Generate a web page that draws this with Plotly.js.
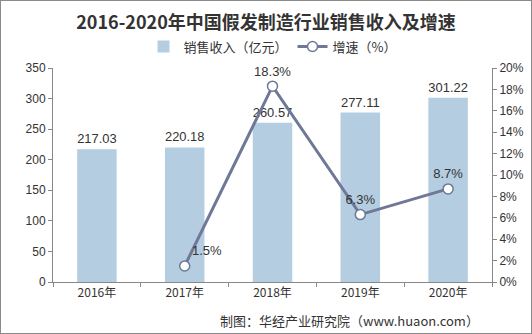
<!DOCTYPE html>
<html><head><meta charset="utf-8">
<script src="https://cdn.plot.ly/plotly-3.0.1.min.js"></script>
<style>
html,body{margin:0;padding:0;background:#fff;}
#frame{width:532px;height:334px;box-sizing:border-box;border:1px solid #8a8a8a;position:relative;}
#chart{width:530px;height:332px;}
</style></head>
<body><div id="frame"><div id="chart"></div></div>
<script>
const years = ['2016年','2017年','2018年','2019年','2020年'];
const revenue = [217.03, 220.18, 260.57, 277.11, 301.22];
const growthYears = ['2017年','2018年','2019年','2020年'];
const growth = [1.5, 18.3, 6.3, 8.7];
const growthPos = ['top right','top center','top center','top center'];

const tickFont = {family:'Liberation Sans, Arial, sans-serif', size:12, color:'#333'};
const traces = [
  {type:'bar', x:years, y:revenue, name:'销售收入（亿元）',
   marker:{color:'#b5cde1'}, text:revenue.map(v=>v.toFixed(2)), textposition:'outside',
   textfont:{family:'Liberation Sans, Arial, sans-serif', size:13, color:'#333'}, cliponaxis:false,
   hoverinfo:'skip'},
  {type:'scatter', mode:'lines+markers+text', x:growthYears, y:growth, yaxis:'y2', name:'增速（%）',
   line:{color:'#6f7897', width:3}, marker:{symbol:'circle', size:10, color:'#fff', line:{color:'#6f7897', width:1.5}},
   text:growth.map(v=>v.toFixed(1)+'%'), textposition:growthPos,
   textfont:{family:'Liberation Sans, Arial, sans-serif', size:13, color:'#333'}, cliponaxis:false}
];
const layout = {
  width:530, height:332,
  margin:{l:52, r:39, t:67, b:51},
  paper_bgcolor:'#fff', plot_bgcolor:'#fff',
  title:{text:'<b>2016-2020年中国假发制造行业销售收入及增速</b>', x:0.5, xanchor:'center', y:0.935, yanchor:'middle',
    font:{family:'Noto Sans CJK SC, sans-serif', size:18, color:'#333'}},
  showlegend:true,
  legend:{orientation:'h', x:0.5, xanchor:'center', y:1.1, yanchor:'middle',
    font:{family:'Noto Sans CJK SC, sans-serif', size:13, color:'#333'}, itemwidth:30, tracegroupgap:0},
  bargap:0.55,
  xaxis:{type:'category', showline:true, linecolor:'#888', linewidth:1, ticks:'outside', tickson:'boundaries',
    ticklen:4, tickcolor:'#888', tickfont:{family:'Noto Sans CJK SC, Liberation Sans, sans-serif', size:12, color:'#333'},
    showgrid:false, zeroline:false, fixedrange:true},
  yaxis:{range:[0,350], dtick:50, showline:true, linecolor:'#888', ticks:'outside', ticklen:4, tickcolor:'#888',
    tickfont:tickFont, showgrid:false, zeroline:false},
  yaxis2:{range:[0,20], dtick:2, ticksuffix:'%', overlaying:'y', side:'right', showline:true, linecolor:'#888',
    ticks:'outside', ticklen:4, tickcolor:'#888', tickfont:tickFont, showgrid:false, zeroline:false},
  annotations:[
    {xref:'paper', yref:'paper', x:0.975, y:-0.178, xanchor:'right', yanchor:'middle', showarrow:false,
     text:'制图：华经产业研究院（www.huaon.com）', font:{family:'Noto Sans CJK SC, sans-serif', size:13, color:'#333'}}
  ]
};
Plotly.newPlot('chart', traces, layout, {displayModeBar:false, staticPlot:true});
</script></body></html>
